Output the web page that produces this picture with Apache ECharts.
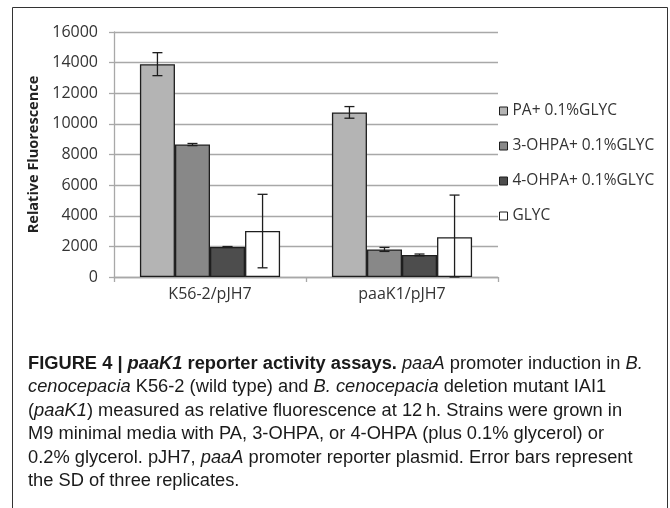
<!DOCTYPE html>
<html><head><meta charset="utf-8">
<script src="https://cdn.jsdelivr.net/npm/echarts@6/dist/echarts.min.js"></script>
<style>html,body{margin:0;padding:0;background:#fff}#c{width:670px;height:508px}</style>
</head><body><div id="c"></div>
<script>
const categories = ['K56-2/pJH7', 'paaK1/pJH7'];
const seriesNames = ['PA+ 0.1%GLYC', '3-OHPA+ 0.1%GLYC', '4-OHPA+ 0.1%GLYC', 'GLYC'];
const paValues = [13900, 10750];
const ohpa3Values = [8650, 1800];
const ohpa4Values = [1960, 1440];
const glycValues = [3000, 2600];
const paErr = [750, 380];
const ohpa3Err = [70, 130];
const ohpa4Err = [30, 60];
const glycErr = [2400, 2750];
const yTicks = [0, 2000, 4000, 6000, 8000, 10000, 12000, 14000, 16000];
const captionLines = [
  '{b|FIGURE 4 | }{bi|paaK1}{b| reporter activity assays.} {i|paaA} promoter induction in {i|B.}',
  '{i|cenocepacia} K56-2 (wild type) and {i|B. cenocepacia} deletion mutant IAI1',
  '({i|paaK1}) measured as relative fluorescence at 12\u2009h. Strains were grown in',
  'M9 minimal media with PA, 3-OHPA, or 4-OHPA (plus 0.1% glycerol) or',
  '0.2% glycerol. pJH7, {i|paaA} promoter reporter plasmid. Error bars represent',
  'the SD of three replicates.'
];

const allValues = [paValues, ohpa3Values, ohpa4Values, glycValues];
const allErr = [paErr, ohpa3Err, ohpa4Err, glycErr];
const colors = ['#b4b4b4', '#888888', '#4d4d4d', '#ffffff'];
const catGap = 0.27;
const axisFont = 'Open Sans';
const capFont = 'Liberation Sans';
const capSize = 18.3;

const chart = echarts.init(document.getElementById('c'), null, {renderer: 'canvas'});

const series = seriesNames.map((n, i) => ({
  name: n, type: 'bar', data: allValues[i],
  barGap: '0%', barCategoryGap: (catGap * 100) + '%',
  itemStyle: {color: colors[i], borderColor: '#1e1e1e', borderWidth: 1.3},
  emphasis: {disabled: true}, z: 2
}));

seriesNames.forEach((n, i) => {
  series.push({
    type: 'custom', name: n + ' err', z: 5, silent: true,
    data: categories.map((c, k) => [k, allValues[i][k], allErr[i][k]]),
    renderItem: function (params, api) {
      const k = api.value(0), v = api.value(1), e = api.value(2);
      const band = api.size([1, 0])[0];
      const bw = band * (1 - catGap) / 4;
      const base = api.coord([k, v]);
      const x = base[0] - band * (1 - catGap) / 2 + bw * (i + 0.5);
      const top = api.coord([k, v + e])[1];
      const bot = api.coord([k, Math.max(v - e, 0)])[1];
      const cap = 5;
      const st = {stroke: '#1e1e1e', lineWidth: 1.3};
      return {type: 'group', children: [
        {type: 'line', shape: {x1: x, y1: top, x2: x, y2: bot}, style: st},
        {type: 'line', shape: {x1: x - cap, y1: top, x2: x + cap, y2: top}, style: st},
        {type: 'line', shape: {x1: x - cap, y1: bot, x2: x + cap, y2: bot}, style: st}
      ]};
    }
  });
});

const graphic = [
  {type: 'rect', shape: {x: 12.5, y: 7.5, width: 655, height: 510}, style: {fill: 'none', stroke: '#333', lineWidth: 1}, silent: true}
];
captionLines.forEach((t, j) => {
  graphic.push({
    type: 'text', x: 28, y: 364 + j * 23.4, silent: true,
    style: {
      text: t, fill: '#1a1a1a', font: capSize + 'px "' + capFont + '"', verticalAlign: 'middle',
      rich: {
        b: {fontWeight: 'bold', fontFamily: capFont, fontSize: capSize, fill: '#1a1a1a'},
        bi: {fontWeight: 'bold', fontStyle: 'italic', fontFamily: capFont, fontSize: capSize, fill: '#1a1a1a'},
        i: {fontStyle: 'italic', fontFamily: capFont, fontSize: capSize, fill: '#1a1a1a'}
      }
    }
  });
});

chart.setOption({
  animation: false,
  backgroundColor: '#ffffff',
  grid: {left: 114, right: 172, top: 32, bottom: 231, containLabel: false},
  legend: {
    orient: 'vertical', left: 499, top: 103, padding: 0, itemWidth: 8, itemHeight: 8, itemGap: 19,
    icon: 'rect', selectedMode: false,
    data: seriesNames.map(n => ({name: n, itemStyle: {borderColor: '#1e1e1e', borderWidth: 1}})),
    textStyle: {fontFamily: axisFont, fontSize: 15.5, color: '#333', lineHeight: 16, padding: [0, 0, 0, 0]}
  },
  xAxis: {
    type: 'category', data: categories,
    axisLine: {lineStyle: {color: '#a8a8a8', width: 1.3}},
    axisTick: {show: true, length: 5, lineStyle: {color: '#a8a8a8', width: 1.3}},
    axisLabel: {fontFamily: axisFont, fontSize: 16, color: '#333', margin: 9}
  },
  yAxis: {
    type: 'value', min: 0, max: 16000, interval: 2000,
    name: 'Relative Fluorescence', nameLocation: 'middle', nameGap: 57, nameRotate: 90,
    nameTextStyle: {fontFamily: axisFont, fontWeight: 'bold', fontSize: 14.5, color: '#222'},
    axisLine: {show: true, lineStyle: {color: '#a8a8a8', width: 1.3}},
    axisTick: {show: true, length: 5, lineStyle: {color: '#a8a8a8', width: 1.3}},
    splitLine: {lineStyle: {color: '#a8a8a8', width: 1.3}},
    axisLabel: {fontFamily: axisFont, fontSize: 16, color: '#333', margin: 16,
      formatter: v => yTicks.includes(v) ? String(v) : ''}
  },
  series: series,
  graphic: graphic
});
</script></body></html>
